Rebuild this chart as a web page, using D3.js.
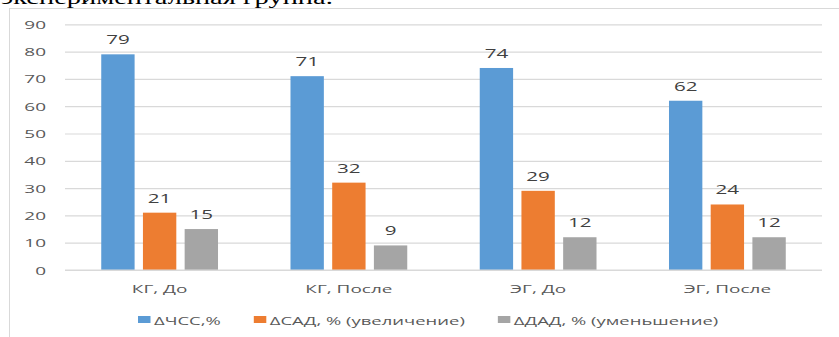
<!DOCTYPE html>
<html>
<head>
<meta charset="utf-8">
<script src="https://cdn.jsdelivr.net/npm/d3@7"></script>
<style>
  html, body { margin: 0; padding: 0; background: #fff; overflow: hidden; }
  text { font-family: "Open Sans", sans-serif; }
</style>
</head>
<body>
<svg id="chart" width="839" height="337"></svg>
<script>
// Categories, series and tick values
const categories = ["КГ, До", "КГ, После", "ЭГ, До", "ЭГ, После"];
const seriesNames = ["ΔЧСС,%", "ΔСАД, % (увеличение)", "ΔДАД, % (уменьшение)"];
const hrValues  = [79, 71, 74, 62];   // ΔЧСС
const sbpValues = [21, 32, 29, 24];   // ΔСАД
const dbpValues = [15, 9, 12, 12];    // ΔДАД
const yTicks = [0, 10, 20, 30, 40, 50, 60, 70, 80, 90];
const colors = ["#5B9BD5", "#ED7D31", "#A5A5A5"];
const captionText = "экспериментальная группа.";

const series = [hrValues, sbpValues, dbpValues];
const SX = 1.65; // horizontal text stretch

const svg = d3.select("#chart");

// caption line above the chart frame (only its lower part is in view)
const caption = svg.append("text")
  .attr("text-anchor", "start")
  .style("font-family", "'Liberation Serif', serif")
  .style("font-size", "18px")
  .attr("fill", "#000")
  .text(captionText);
const capW = caption.node().getComputedTextLength();
caption.attr("transform", `translate(1,4) scale(${332 / capW},1)`);

// chart frame
svg.append("rect")
  .attr("x", 9.5).attr("y", 8.5)
  .attr("width", 900).attr("height", 400)
  .attr("fill", "#fff")
  .attr("stroke", "#d9d9d9")
  .attr("stroke-width", 1);

const plotLeft = 65, plotRight = 822, plotTop = 24.3, plotBottom = 270;

const y = d3.scaleLinear().domain([0, 90]).range([plotBottom, plotTop]);
const pad = 0.383;
const x0 = d3.scaleBand().domain(categories).range([plotLeft, plotRight])
  .paddingInner(pad).paddingOuter(pad / 2);
const x1 = d3.scaleBand().domain(d3.range(series.length))
  .range([0, x0.bandwidth()]).paddingInner(0.2).paddingOuter(0);

// value axis with gridlines
const yAxis = svg.append("g")
  .attr("transform", `translate(${plotLeft},0)`)
  .call(d3.axisLeft(y).tickValues(yTicks).tickSize(-(plotRight - plotLeft)).tickFormat(d3.format("d")));
yAxis.select(".domain").remove();
yAxis.selectAll(".tick line").attr("stroke", "#d9d9d9").attr("stroke-width", 1.2);
yAxis.selectAll(".tick text")
  .attr("x", 0).attr("dy", null).attr("y", 4)
  .attr("transform", `translate(-19,0) scale(${SX},1)`)
  .attr("text-anchor", "end")
  .attr("fill", "#595959")
  .style("font-size", "11.5px");

// bars
const groups = svg.append("g").selectAll("g")
  .data(categories)
  .join("g")
  .attr("transform", d => `translate(${x0(d)},0)`);

groups.each(function(cat, ci) {
  const g = d3.select(this);
  series.forEach((vals, si) => {
    const v = vals[ci];
    g.append("rect")
      .attr("x", x1(si))
      .attr("y", y(v))
      .attr("width", x1.bandwidth())
      .attr("height", y(0) - y(v))
      .attr("fill", colors[si]);
    g.append("text")
      .attr("transform", `translate(${x1(si) + x1.bandwidth() / 2},${y(v) - 10}) scale(${SX},1)`)
      .attr("text-anchor", "middle")
      .attr("fill", "#404040")
      .style("font-size", "12.5px")
      .text(v);
  });
});

// category axis
const xAxis = svg.append("g")
  .attr("transform", `translate(0,${plotBottom})`)
  .call(d3.axisBottom(x0).tickSize(0));
xAxis.select(".domain").attr("stroke", "#d9d9d9").attr("stroke-width", 1.2)
  .attr("d", `M${plotLeft},0H${plotRight}`);
xAxis.selectAll(".tick text")
  .attr("y", 0).attr("dy", null)
  .attr("transform", `translate(0,23) scale(${SX},1)`)
  .attr("fill", "#595959")
  .style("font-size", "11.5px");

// legend
const legend = svg.append("g");
let lx = 138;
seriesNames.forEach((name, i) => {
  legend.append("rect")
    .attr("x", lx).attr("y", 316)
    .attr("width", 12.5).attr("height", 7)
    .attr("fill", colors[i]);
  const t = legend.append("text")
    .attr("transform", `translate(${lx + 16},325) scale(${SX},1)`)
    .attr("fill", "#595959")
    .style("font-size", "11.2px")
    .text(name);
  const w = t.node().getComputedTextLength() * SX;
  lx += 16 + w + 33;
});
</script>
</body>
</html>
